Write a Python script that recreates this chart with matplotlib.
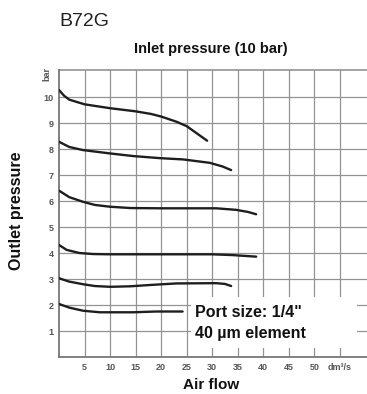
import matplotlib
matplotlib.use("Agg")
import matplotlib.pyplot as plt
from matplotlib import font_manager as fm
from matplotlib.patches import Rectangle

# ---- data ----
x_ticks = [5, 10, 15, 20, 25, 30, 35, 40, 45, 50]
x_tick_labels = ["5", "10", "15", "20", "25", "30", "35", "40", "45", "50"]
y_ticks = [1, 2, 3, 4, 5, 6, 7, 8, 9, 10]
y_tick_labels = ["1", "2", "3", "4", "5", "6", "7", "8", "9", "10"]

flow_10 = [0, 1, 2, 5, 10, 15, 18, 20, 23, 25, 27, 29]
pres_10 = [10.27, 10.05, 9.9, 9.72, 9.57, 9.45, 9.35, 9.25, 9.05, 8.88, 8.6, 8.32]

flow_8 = [0, 2, 4.7, 10, 14.5, 19.7, 24.3, 29.5, 32, 33.7]
pres_8 = [8.28, 8.08, 7.96, 7.83, 7.73, 7.65, 7.60, 7.47, 7.33, 7.19]

flow_6 = [0, 2, 4.7, 7, 10, 14, 20, 30.8, 34.7, 37, 38.6]
pres_6 = [6.40, 6.15, 5.97, 5.85, 5.78, 5.73, 5.72, 5.72, 5.66, 5.58, 5.49]

flow_4 = [0, 1.5, 4, 6.7, 10, 20, 30, 34, 38.6]
pres_4 = [4.31, 4.12, 4.0, 3.96, 3.95, 3.95, 3.95, 3.92, 3.86]

flow_3 = [0, 2, 4.7, 7, 10, 14, 17.8, 23, 30.8, 32.5, 33.7]
pres_3 = [3.03, 2.9, 2.80, 2.73, 2.70, 2.72, 2.77, 2.83, 2.84, 2.81, 2.73]

flow_2 = [0, 2, 4.7, 8, 14.5, 19, 24.2]
pres_2 = [2.04, 1.9, 1.78, 1.72, 1.72, 1.75, 1.75]

curves = [(flow_10, pres_10), (flow_8, pres_8), (flow_6, pres_6),
          (flow_4, pres_4), (flow_3, pres_3), (flow_2, pres_2)]

# ---- fonts ----
names = {f.name for f in fm.fontManager.ttflist}
narrow = "Liberation Sans Narrow" if "Liberation Sans Narrow" in names else "Liberation Sans"
FAM = [narrow, "DejaVu Sans"]
REG = ["Liberation Sans", "DejaVu Sans"]

W, H = 367, 394
fig = plt.figure(figsize=(W / 100, H / 100), dpi=100)
ax = fig.add_axes([59 / W, (H - 357) / H, (W - 59) / W, (357 - 70) / H])
ax.set_xlim(0, 60.3)
ax.set_ylim(0, 11.04)

grid_c = "#939393"
for yv in y_ticks:
    ax.axhline(yv, color=grid_c, lw=0.9, zorder=1)
ax.axhline(11.04, color=grid_c, lw=1.2, zorder=1, clip_on=False)
for xv in x_ticks + [55]:
    ax.axvline(xv, color=grid_c, lw=0.9, zorder=1)

for fx, fy in curves:
    ax.plot(fx, fy, color="#1e1e1e", lw=1.7, zorder=3, solid_capstyle="round")

for s in ["top", "right"]:
    ax.spines[s].set_visible(False)
for s in ["left", "bottom"]:
    ax.spines[s].set_color("#777777")
    ax.spines[s].set_linewidth(1.3)

ax.set_xticks(x_ticks + [55])
ax.set_xticklabels(x_tick_labels + ["dm³/s"], family=REG, fontsize=6.5,
                   color="#555555", fontweight="bold")
ax.set_yticks(y_ticks)
ax.set_yticklabels(y_tick_labels, family=REG, fontsize=6.5,
                   color="#555555", fontweight="bold")
ax.tick_params(length=0, pad=4)

# 'bar' unit label
ax.text(-2.35, 10.9, "bar", rotation=90, ha="center", va="center",
        family=REG, fontsize=6.5, color="#555555", fontweight="bold", clip_on=False)

# texts
fig.text(59 / W, 1 - 21 / H, "B72G", ha="left", va="center", family=FAM,
         fontsize=14, color="#222222")
fig.text(211 / W, 1 - 49 / H, "Inlet pressure (10 bar)", ha="center", va="center",
         family=FAM, fontsize=10.5, fontweight="bold", color="#111111")
fig.text(16.5 / W, 1 - 211 / H, "Outlet pressure", ha="center", va="center",
         rotation=90, family=FAM, fontsize=11.5, fontweight="bold", color="#111111")
fig.text(211 / W, 1 - 385 / H, "Air flow", ha="center", va="center",
         family=FAM, fontsize=11, fontweight="bold", color="#111111")

# annotation box (white panel hiding grid)
ax.add_patch(Rectangle((25.8, 0.35), 32.6, 1.95, facecolor="white",
                       edgecolor="none", zorder=4))
ax.text(26.6, 1.3, 'Port size: 1/4"\n40 µm element', ha="left", va="center",
        family=FAM, fontsize=11.5, fontweight="bold", color="#111111",
        linespacing=1.5, zorder=5)

fig.savefig("out.png", dpi=100)
